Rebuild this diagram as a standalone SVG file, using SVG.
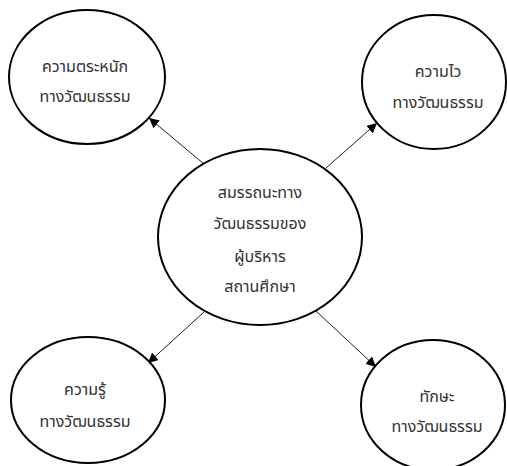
<svg xmlns="http://www.w3.org/2000/svg" width="507" height="466" viewBox="0 0 507 466">
<style>
.n{fill:#fff;stroke:#000;stroke-width:2}
.t{font-family:"Noto Sans Thai","Noto Sans","DejaVu Sans",sans-serif;font-size:16px;fill:#333;text-anchor:middle;dominant-baseline:central}
.c{stroke:#222;stroke-width:1;fill:none;marker-end:url(#ah)}
</style>
<defs>
<marker id="ah" viewBox="0 0 10 10" refX="10" refY="5" markerWidth="10" markerHeight="10" markerUnits="userSpaceOnUse" orient="auto">
<path d="M0,0 L10,5 L0,10 z" fill="#000"/>
</marker>
</defs>
<rect width="507" height="466" fill="#fff"/>
<g id="connectors">
<line class="c" x1="204" y1="164" x2="149" y2="118"/>
<line class="c" x1="326" y1="168" x2="377" y2="123"/>
<line class="c" x1="204" y1="312" x2="148" y2="363"/>
<line class="c" x1="316" y1="311" x2="376" y2="367"/>
</g>
<g id="center">
<ellipse class="n" cx="260" cy="237" rx="102" ry="88"/>
<text class="t" x="260" y="193">สมรรถนะทาง</text>
<text class="t" x="260" y="224">วัฒนธรรมของ</text>
<text class="t" x="260" y="257">ผู้บริหาร</text>
<text class="t" x="260" y="287">สถานศึกษา</text>
</g>
<g id="awareness">
<ellipse class="n" cx="87" cy="77" rx="78" ry="67"/>
<text class="t" x="85" y="67">ความตระหนัก</text>
<text class="t" x="85" y="97">ทางวัฒนธรรม</text>
</g>
<g id="sensitivity">
<ellipse class="n" cx="434" cy="82" rx="72" ry="67"/>
<text class="t" x="438" y="72">ความไว</text>
<text class="t" x="438" y="103">ทางวัฒนธรรม</text>
</g>
<g id="knowledge">
<ellipse class="n" cx="88" cy="400" rx="77" ry="63"/>
<text class="t" x="85" y="390">ความรู้</text>
<text class="t" x="85" y="422">ทางวัฒนธรรม</text>
</g>
<g id="skill">
<ellipse class="n" cx="433" cy="405" rx="72" ry="65"/>
<text class="t" x="437" y="397">ทักษะ</text>
<text class="t" x="437" y="427">ทางวัฒนธรรม</text>
</g>
</svg>
